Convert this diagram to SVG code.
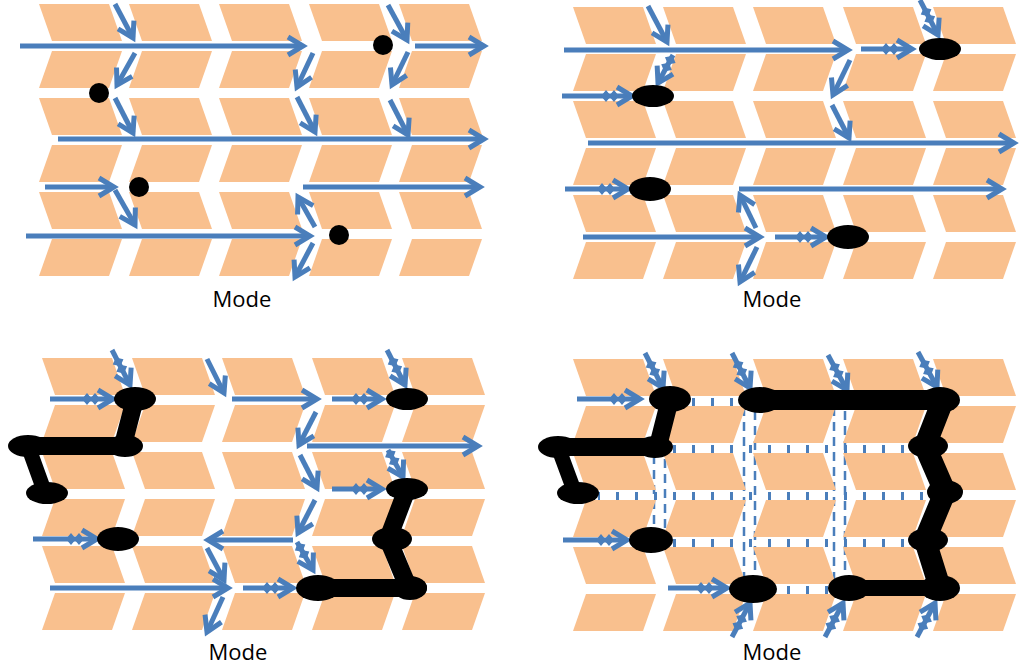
<svg xmlns="http://www.w3.org/2000/svg" xmlns:xlink="http://www.w3.org/1999/xlink" width="1024" height="667" viewBox="0 0 1024 667">
<style>
.t{fill:#F9C08E}
.a{stroke:#4A7EBB;stroke-width:5;fill:none;marker-end:url(#ah)}
.d{stroke:#4A7EBB;stroke-width:5;fill:none;marker-end:url(#ad)}
.k{fill:#000}
.b{stroke:#000;fill:none;stroke-linecap:round;stroke-linejoin:round}
.v{stroke:#4A7EBB;stroke-width:2.5;stroke-dasharray:9 6;fill:none}
.lbl{font-family:"Open Sans","Liberation Sans",sans-serif;font-size:22px;fill:#000;text-anchor:middle}
</style>
<defs>
<marker id="ah" markerUnits="userSpaceOnUse" viewBox="-20 -12 24 24" refX="0" refY="0" markerWidth="24" markerHeight="24" orient="auto" overflow="visible">
<path d="M-15,-9 L0,0 L-15,9" stroke="#4A7EBB" stroke-width="5" fill="none"/>
</marker>
<marker id="ad" markerUnits="userSpaceOnUse" viewBox="-40 -12 44 24" refX="0" refY="0" markerWidth="44" markerHeight="24" orient="auto" overflow="visible">
<path d="M-15,-9 L0,0 L-15,9" stroke="#4A7EBB" stroke-width="5" fill="none"/>
<path d="M-31,0 L-26,-6 L-21,0 L-26,6Z M-23,0 L-18,-6 L-13,0 L-18,6Z" fill="#4A7EBB"/>
</marker>
<polygon id="A" class="t" points="0,0 70,0 83,37 13,37"/>
<polygon id="B" class="t" points="13,0 83,0 70,37 0,37"/>
<g id="row">
<use xlink:href="#A" x="0"/><use xlink:href="#A" x="90"/><use xlink:href="#A" x="180"/><use xlink:href="#A" x="270"/><use xlink:href="#A" x="360"/>
<use xlink:href="#B" x="0" y="47"/><use xlink:href="#B" x="90" y="47"/><use xlink:href="#B" x="180" y="47"/><use xlink:href="#B" x="270" y="47"/><use xlink:href="#B" x="360" y="47"/>
</g>
<g id="grid">
<use xlink:href="#row" y="0"/><use xlink:href="#row" y="94"/><use xlink:href="#row" y="188"/>
</g>
<pattern id="tick" patternUnits="userSpaceOnUse" width="19" height="47">
<rect x="8" y="22" width="3" height="8" fill="#4A7EBB"/>
</pattern>
</defs>
<rect width="1024" height="667" fill="#fff"/>

<g id="panel-tl">
<use xlink:href="#grid" x="39" y="4"/>
<g id="connectors-tl">
<line class="a" x1="20" y1="46" x2="303" y2="46"/>
<line class="a" x1="415" y1="46" x2="484" y2="46"/>
<line class="a" x1="58" y1="139" x2="484" y2="139"/>
<line class="a" x1="45" y1="187" x2="114" y2="187"/>
<line class="a" x1="303" y1="187" x2="480" y2="187"/>
<line class="a" x1="26" y1="236" x2="310" y2="236"/>
<line class="a" x1="115" y1="4" x2="133" y2="38"/>
<line class="a" x1="135" y1="53" x2="117" y2="85"/>
<line class="a" x1="115" y1="98" x2="133" y2="133"/>
<line class="a" x1="313" y1="53" x2="297" y2="87"/>
<line class="a" x1="297" y1="97" x2="315" y2="132"/>
<line class="a" x1="388" y1="5" x2="407" y2="40"/>
<line class="a" x1="408" y1="52" x2="392" y2="85"/>
<line class="a" x1="390" y1="100" x2="408" y2="135"/>
<line class="a" x1="115" y1="190" x2="135" y2="225"/>
<line class="a" x1="315" y1="227" x2="298" y2="197"/>
<line class="a" x1="313" y1="243" x2="295" y2="277"/>
</g>
<circle class="k" cx="383" cy="45" r="10"/>
<circle class="k" cx="99" cy="93" r="10"/>
<circle class="k" cx="139" cy="187" r="10"/>
<circle class="k" cx="339" cy="235" r="10"/>
<text class="lbl" x="242" y="307">Mode</text>
</g>

<g id="panel-tr">
<use xlink:href="#grid" x="573" y="7"/>
<g id="connectors-tr">
<line class="a" x1="564" y1="50" x2="848" y2="50"/>
<line class="d" x1="861" y1="49" x2="912" y2="49"/>
<line class="a" x1="648" y1="6" x2="667" y2="42"/>
<line class="d" x1="920" y1="0" x2="938" y2="35"/>
<line class="d" x1="673" y1="55" x2="658" y2="83"/>
<line class="d" x1="562" y1="96" x2="632" y2="96"/>
<line class="a" x1="850" y1="60" x2="833" y2="95"/>
<line class="a" x1="832" y1="105" x2="849" y2="138"/>
<line class="a" x1="588" y1="143" x2="1014" y2="143"/>
<line class="d" x1="565" y1="189" x2="628" y2="189"/>
<line class="a" x1="739" y1="189" x2="1002" y2="189"/>
<line class="a" x1="756" y1="228" x2="740" y2="195"/>
<line class="a" x1="583" y1="237" x2="760" y2="237"/>
<line class="a" x1="757" y1="247" x2="740" y2="282"/>
<line class="d" x1="775" y1="237" x2="826" y2="237"/>
</g>
<ellipse class="k" cx="940" cy="49" rx="21" ry="11"/>
<ellipse class="k" cx="653" cy="96" rx="21" ry="11"/>
<ellipse class="k" cx="650" cy="189" rx="21" ry="12"/>
<ellipse class="k" cx="848" cy="237" rx="21" ry="12"/>
<text class="lbl" x="772" y="307">Mode</text>
</g>

<g id="panel-bl">
<use xlink:href="#grid" x="42" y="358"/>
<g id="connectors-bl">
<line class="d" x1="112" y1="350" x2="130" y2="385"/>
<line class="a" x1="207" y1="359" x2="224" y2="393"/>
<line class="d" x1="387" y1="350" x2="405" y2="385"/>
<line class="d" x1="50" y1="399" x2="113" y2="399"/>
<line class="a" x1="232" y1="399" x2="317" y2="399"/>
<line class="d" x1="332" y1="399" x2="382" y2="399"/>
<line class="a" x1="316" y1="412" x2="299" y2="445"/>
<line class="a" x1="307" y1="446" x2="478" y2="446"/>
<line class="d" x1="388" y1="450" x2="403" y2="477"/>
<line class="a" x1="300" y1="455" x2="317" y2="488"/>
<line class="d" x1="332" y1="489" x2="382" y2="489"/>
<line class="a" x1="315" y1="500" x2="298" y2="533"/>
<line class="a" x1="293" y1="540" x2="208" y2="540"/>
<line class="d" x1="297" y1="542" x2="313" y2="570"/>
<line class="d" x1="33" y1="539" x2="97" y2="539"/>
<line class="a" x1="207" y1="548" x2="224" y2="580"/>
<line class="a" x1="50" y1="588" x2="228" y2="588"/>
<line class="d" x1="243" y1="588" x2="293" y2="588"/>
<line class="a" x1="223" y1="597" x2="207" y2="632"/>
</g>
<g id="blob-bl1">
<polyline class="b" stroke-width="18" points="135,399 123,445"/>
<polyline class="b" stroke-width="18" points="25,446 125,446"/>
<polyline class="b" stroke-width="15" points="28,446 45,493"/>
<ellipse class="k" cx="135" cy="399" rx="21" ry="12"/>
<ellipse class="k" cx="125" cy="446" rx="18" ry="11"/>
<ellipse class="k" cx="28" cy="446" rx="20" ry="11"/>
<ellipse class="k" cx="47" cy="493" rx="21" ry="11"/>
</g>
<ellipse class="k" cx="407" cy="399" rx="21" ry="11"/>
<ellipse class="k" cx="118" cy="539" rx="21" ry="12"/>
<g id="blob-bl2">
<polyline class="b" stroke-width="18" points="407,489 388,539 408,587"/>
<polyline class="b" stroke-width="18" points="315,588 418,588"/>
<ellipse class="k" cx="407" cy="489" rx="21" ry="11"/>
<ellipse class="k" cx="392" cy="539" rx="20" ry="12"/>
<ellipse class="k" cx="410" cy="588" rx="17" ry="12"/>
<ellipse class="k" cx="318" cy="588" rx="22" ry="13"/>
</g>
<text class="lbl" x="238" y="660">Mode</text>
</g>

<g id="panel-br">
<g fill="url(#tick)">
<rect x="672" y="392" width="253" height="160"/>
<rect x="598" y="482" width="347" height="20"/>
<rect x="740" y="550" width="120" height="48"/>
</g>
<g id="vticks">
<line class="v" x1="654" y1="440" x2="654" y2="548"/>
<line class="v" x1="665" y1="444" x2="665" y2="548"/>
<line class="v" x1="744" y1="392" x2="744" y2="598"/>
<line class="v" x1="755" y1="396" x2="755" y2="598"/>
<line class="v" x1="834" y1="392" x2="834" y2="598"/>
<line class="v" x1="845" y1="396" x2="845" y2="598"/>
</g>
<use xlink:href="#grid" x="573" y="359"/>
<g id="connectors-br">
<line class="d" x1="645" y1="353" x2="663" y2="388"/>
<line class="d" x1="732" y1="353" x2="750" y2="388"/>
<line class="d" x1="828" y1="355" x2="847" y2="390"/>
<line class="d" x1="918" y1="352" x2="937" y2="387"/>
<line class="d" x1="577" y1="399" x2="640" y2="399"/>
<line class="d" x1="563" y1="540" x2="627" y2="540"/>
<line class="d" x1="668" y1="588" x2="727" y2="588"/>
<line class="d" x1="732" y1="637" x2="750" y2="603"/>
<line class="d" x1="825" y1="637" x2="843" y2="603"/>
<line class="d" x1="917" y1="637" x2="935" y2="603"/>
</g>
<g id="blob-br1">
<polyline class="b" stroke-width="18" points="670,399 658,446"/>
<polyline class="b" stroke-width="18" points="555,447 655,447"/>
<polyline class="b" stroke-width="15" points="558,447 575,493"/>
<ellipse class="k" cx="670" cy="399" rx="21" ry="13"/>
<ellipse class="k" cx="655" cy="447" rx="18" ry="11"/>
<ellipse class="k" cx="558" cy="447" rx="20" ry="11"/>
<ellipse class="k" cx="578" cy="493" rx="21" ry="11"/>
</g>
<ellipse class="k" cx="651" cy="540" rx="22" ry="13"/>
<ellipse class="k" cx="753" cy="589" rx="24" ry="14"/>
<g id="blob-br2">
<polyline class="b" stroke-width="20" points="757,400 943,400"/>
<polyline class="b" stroke-width="22" points="943,400 925,446 945,492 925,540 940,588"/>
<polyline class="b" stroke-width="16" points="847,588 940,588"/>
<ellipse class="k" cx="760" cy="400" rx="22" ry="13"/>
<ellipse class="k" cx="940" cy="400" rx="20" ry="13"/>
<ellipse class="k" cx="928" cy="446" rx="20" ry="12"/>
<ellipse class="k" cx="945" cy="492" rx="18" ry="12"/>
<ellipse class="k" cx="928" cy="540" rx="20" ry="12"/>
<ellipse class="k" cx="940" cy="588" rx="20" ry="13"/>
<ellipse class="k" cx="849" cy="588" rx="21" ry="13"/>
</g>
<text class="lbl" x="772" y="660">Mode</text>
</g>
</svg>
